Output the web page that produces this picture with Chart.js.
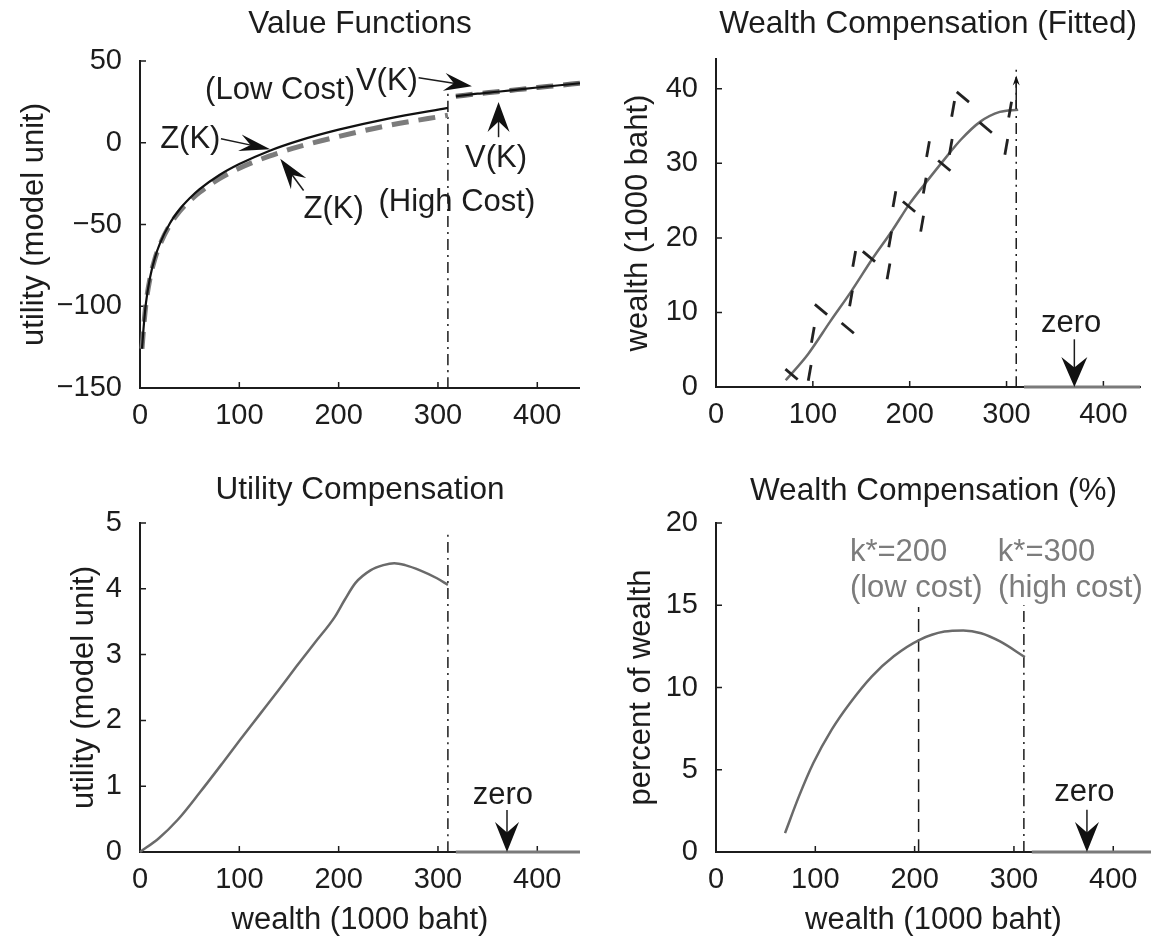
<!DOCTYPE html>
<html>
<head>
<meta charset="utf-8">
<title>Compensation</title>
<script src="https://cdn.jsdelivr.net/npm/chart.js@4.4.1/dist/chart.umd.min.js"></script>
<style>
  html, body { margin: 0; padding: 0; background: #fff; }
  #page { position: relative; width: 1151px; height: 936px; overflow: hidden; background: #fff; }
  #page canvas { position: absolute; }
</style>
</head>
<body>
<div id="page">
  <canvas id="ValueChart" width="580" height="440" style="left:0;top:0"></canvas>
  <canvas id="FittedChart" width="571" height="440" style="left:580px;top:0"></canvas>
  <canvas id="UtilityChart" width="580" height="496" style="left:0;top:440px"></canvas>
  <canvas id="PercentChart" width="571" height="496" style="left:580px;top:440px"></canvas>
</div>
<script>
const FONT = "'Liberation Sans', Arial, Helvetica, sans-serif";
const INK = '#1c1c1c';
const CURVE = '#6a6a6a';

// x축 공통 눈금 (1000 baht)
const wealthTicks = [0, 100, 200, 300, 400];

// 1) 가치함수 Z(K), V(K)
const zWealth = [2, 3.5, 6, 10, 15, 20, 30, 40, 50, 60, 80, 100, 130, 160, 200, 250, 310];
const zLowCost = [-126, -114, -98, -82.7, -70.4, -61.7, -49.4, -40.7, -34, -28.4, -19.7, -13, -5, 1.3, 8, 14.8, 21.3];
const zHighCost = [-126, -114.3, -98.5, -83.2, -71, -62.5, -50.4, -41.9, -35.6, -30.3, -22, -15.6, -8.2, -2.4, 3.8, 10.6, 16.8];
const vWealth = [318, 340, 360, 380, 400, 420, 443];
const vValue = [28.4, 30, 31.2, 32.5, 33.8, 35, 36.4];
const valueTicks = [-150, -100, -50, 0, 50];

// 2) 부 보상 (적합곡선 + 관측치)
const fitWealth = [72, 95, 118, 140, 162, 182, 200, 216, 235, 253, 273, 293, 312];
const fitComp = [0.9, 4.4, 8.8, 12.9, 17.3, 21, 24.6, 27.3, 30.4, 33.2, 35.6, 36.9, 37.2];
const obsWealth = [78, 96.7, 100, 108.4, 139.4, 136, 157.9, 142.7, 179.8, 178.1, 184.2, 199.3, 212.8, 215.5, 218.9, 235.7, 242.4, 244.8, 254.9, 278.5, 303.7, 299.7];
const obsComp = [1.7, 1.9, 7.0, 10.4, 11.9, 7.9, 17.5, 17.2, 19.8, 15.5, 25.2, 24.2, 21.9, 27.0, 31.9, 29.7, 32.2, 37.3, 38.9, 34.8, 37.2, 32.2];
const obsMark = ['\\', '|', '|', '\\', '|', '\\', '\\', '|', '|', '|', '|', '\\', '|', '|', '|', '\\', '|', '|', '\\', '\\', '|', '|'];
const fittedTicks = [0, 10, 20, 30, 40];

// 3) 효용 보상
const utilWealth = [0, 19, 38, 60, 83, 101, 120, 139, 157, 176, 196, 206, 217, 232, 245, 256, 267, 282, 299, 310];
const utilComp = [0, 0.21, 0.49, 0.9, 1.35, 1.71, 2.08, 2.45, 2.81, 3.18, 3.57, 3.83, 4.09, 4.28, 4.36, 4.39, 4.36, 4.28, 4.16, 4.06];
const utilTicks = [0, 1, 2, 3, 4, 5];

// 4) 부 보상 (%)
const pctWealth = [69.5, 83.5, 98, 116.5, 135, 157, 179, 205, 230, 249, 267, 286, 311];
const pctComp = [1.15, 3.38, 5.41, 7.44, 9.06, 10.68, 11.9, 12.9, 13.4, 13.47, 13.3, 12.8, 11.85];
const pctTicks = [0, 5, 10, 15, 20];

// 문턱 자본 k* (low cost / high cost), 그 이후로는 보상 0
const kLow = 204;
const kHigh = 310;
const zeroFrom = 318;

const pts = (xs, ys) => xs.map((x, i) => ({ x: x, y: ys[i] }));

// 음수 눈금은 긴 마이너스 기호로
const tickText = (v) => (v < 0 ? '\u2212' + Math.abs(v) : String(v));

const curve = (data, color, width, dash) => ({
    data: data,
    showLine: true,
    borderColor: color,
    borderWidth: width,
    borderDash: dash || [],
    pointRadius: 0,
    cubicInterpolationMode: 'monotone',
    clip: false
});

const vline = (xv, y0, y1, dash) => curve([{ x: xv, y: y0 }, { x: xv, y: y1 }], INK, 1.5, dash);
const DASH_DOT = [11, 5, 2, 5];

// 눈금을 축 안쪽으로 (MATLAB 스타일)
const inwardTicks = {
    id: 'inwardTicks',
    beforeDatasetsDraw(chart) {
        const { ctx, chartArea: a, scales: { x, y } } = chart;
        ctx.save();
        ctx.strokeStyle = INK;
        ctx.lineWidth = 1.5;
        ctx.beginPath();
        x.ticks.forEach(t => {
            const px = x.getPixelForValue(t.value);
            ctx.moveTo(px, a.bottom);
            ctx.lineTo(px, a.bottom - 6);
        });
        y.ticks.forEach(t => {
            const py = y.getPixelForValue(t.value);
            ctx.moveTo(a.left, py);
            ctx.lineTo(a.left + 6, py);
        });
        ctx.stroke();
        ctx.restore();
    }
};

// 화살표 (뒤가 오목한 머리)
const draw_arrow = (ctx, x0, y0, x1, y1, a) => {
    const ang = Math.atan2(y1 - y0, x1 - x0);
    const len = a.len || 30;
    const half = (a.width || 20) / 2;
    ctx.beginPath();
    ctx.moveTo(x0, y0);
    ctx.lineTo(x1 - Math.cos(ang) * len * 0.6, y1 - Math.sin(ang) * len * 0.6);
    ctx.strokeStyle = a.stem || INK;
    ctx.lineWidth = a.stemWidth || 1.5;
    ctx.stroke();
    ctx.save();
    ctx.translate(x1, y1);
    ctx.rotate(ang);
    ctx.beginPath();
    ctx.moveTo(0, 0);
    ctx.lineTo(-len, -half);
    ctx.lineTo(-len * 0.65, 0);
    ctx.lineTo(-len, half);
    ctx.closePath();
    ctx.fillStyle = '#111';
    ctx.fill();
    ctx.restore();
};

// 주석 텍스트, 화살표 (데이터 좌표 기준)
const notes_plugin = (notes) => ({
    id: 'notes',
    afterDatasetsDraw(chart) {
        const { ctx, scales: { x, y } } = chart;
        ctx.save();
        (notes.arrows || []).forEach(a => {
            draw_arrow(ctx,
                x.getPixelForValue(a.from[0]), y.getPixelForValue(a.from[1]),
                x.getPixelForValue(a.to[0]), y.getPixelForValue(a.to[1]), a);
        });
        ctx.font = '31px ' + FONT;
        ctx.textBaseline = 'middle';
        (notes.texts || []).forEach(t => {
            ctx.fillStyle = t.color || INK;
            ctx.textAlign = t.align || 'center';
            ctx.fillText(t.text, x.getPixelForValue(t.x), y.getPixelForValue(t.y));
        });
        ctx.restore();
    }
});

const base_options = (c) => ({
    responsive: false,
    animation: false,
    events: [],
    layout: { padding: 0 },
    plugins: {
        legend: { display: false },
        tooltip: { enabled: false },
        title: {
            display: true,
            fullSize: false,
            text: c.title,
            color: INK,
            font: { family: FONT, size: 31.5, weight: 'normal', lineHeight: 1 },
            padding: { top: c.titleTop, bottom: c.titleBottom }
        }
    },
    scales: {
        x: {
            type: 'linear',
            min: 0,
            max: c.xMax,
            afterBuildTicks: (s) => { s.ticks = wealthTicks.map(v => ({ value: v })); },
            afterFit: (s) => { s.height = c.xHeight; },
            grid: { display: false },
            border: { display: true, color: INK, width: 2 },
            ticks: {
                color: INK, font: { family: FONT, size: 29 }, padding: 3,
                maxRotation: 0, autoSkip: false, callback: tickText
            },
            title: {
                display: !!c.xTitle,
                text: c.xTitle || '',
                color: INK,
                font: { family: FONT, size: 31, lineHeight: 1 },
                padding: { top: 0, bottom: 0.5 }
            }
        },
        y: {
            type: 'linear',
            min: c.yMin,
            max: c.yMax,
            afterBuildTicks: (s) => { s.ticks = c.yTicks.map(v => ({ value: v })); },
            afterFit: (s) => { s.width = c.yWidth; },
            grid: { display: false },
            border: { display: true, color: INK, width: 2 },
            ticks: {
                color: INK, font: { family: FONT, size: 29 }, padding: 10,
                autoSkip: false, callback: tickText
            },
            title: {
                display: true,
                text: c.yTitle,
                color: INK,
                font: { family: FONT, size: 31, lineHeight: 1 },
                padding: { top: c.yTitlePad, bottom: 0 }
            }
        }
    }
});

// 왼쪽 위: 가치함수
const value_chart = () => {
    const ctx = document.getElementById('ValueChart');
    if (!ctx) return;
    const xMax = 443;
    new Chart(ctx, {
        type: 'scatter',
        data: {
            datasets: [
                curve(pts(zWealth, zLowCost), '#111', 2.2),
                curve(pts(vWealth, vValue), '#111', 2.2),
                curve(pts(zWealth, zHighCost), '#7c7c7c', 5, [17, 10]),
                curve(pts(vWealth, vValue), '#6c6c6c', 5, [17, 10]),
                vline(kHigh, -150, 31, DASH_DOT)
            ]
        },
        options: base_options({
            title: 'Value Functions', titleTop: 9, titleBottom: 20.5,
            xMax: xMax, xHeight: 52,
            yMin: -150, yMax: 50, yTicks: valueTicks, yWidth: 140,
            yTitle: 'utility (model unit)', yTitlePad: 18.5
        }),
        plugins: [inwardTicks, notes_plugin({
            texts: [
                { text: '(Low Cost)', x: 141, y: 32.1 },
                { text: 'V(K)', x: 248.6, y: 37.7 },
                { text: 'Z(K)', x: 50.6, y: 2 },
                { text: 'Z(K)', x: 194.9, y: -40.5 },
                { text: '(High Cost)', x: 319, y: -36.4 },
                { text: 'V(K)', x: 358.5, y: -9.3 }
            ],
            arrows: [
                { from: [280.5, 39.7], to: [334.2, 34.6], len: 28, width: 18 },
                { from: [81.5, 2.5], to: [131.1, -4], len: 31, width: 17 },
                { from: [164.7, -29.2], to: [141.2, -9.8], len: 31, width: 19 },
                { from: [361, 3.4], to: [361, 25], len: 30, width: 22 }
            ]
        })]
    });
};

// 오른쪽 위: 부 보상 적합
const fitted_chart = () => {
    const ctx = document.getElementById('FittedChart');
    if (!ctx) return;
    const xMax = 438;
    new Chart(ctx, {
        type: 'scatter',
        data: {
            datasets: [
                {
                    data: pts(obsWealth, obsComp),
                    showLine: false,
                    pointStyle: 'line',
                    pointRadius: 8,
                    pointBorderWidth: 2.8,
                    pointBorderColor: '#222',
                    pointRotation: obsMark.map(m => (m === '|' ? -80 : 40)),
                    clip: false
                },
                curve(pts(fitWealth, fitComp), CURVE, 2.5),
                curve([{ x: zeroFrom, y: 0 }, { x: xMax, y: 0 }], '#7a7a7a', 3),
                vline(kHigh, 0, 42.6, DASH_DOT)
            ]
        },
        options: base_options({
            title: 'Wealth Compensation (Fitted)', titleTop: 9, titleBottom: 18.5,
            xMax: xMax, xHeight: 53,
            yMin: 0, yMax: 44, yTicks: fittedTicks, yWidth: 136,
            yTitle: 'wealth (1000 baht)', yTitlePad: 42.5
        }),
        plugins: [inwardTicks, notes_plugin({
            texts: [{ text: 'zero', x: 366.7, y: 8.5 }],
            arrows: [
                { from: [370, 6.4], to: [370, 0], len: 30, width: 26 },
                { from: [kHigh, 37.3], to: [kHigh, 41.8], len: 10, width: 7 }
            ]
        })]
    });
};

// 왼쪽 아래: 효용 보상
const utility_chart = () => {
    const ctx = document.getElementById('UtilityChart');
    if (!ctx) return;
    const xMax = 443;
    new Chart(ctx, {
        type: 'scatter',
        data: {
            datasets: [
                curve(pts(utilWealth, utilComp), CURVE, 2.5),
                curve([{ x: zeroFrom, y: 0 }, { x: xMax, y: 0 }], '#7a7a7a', 3),
                vline(kHigh, 0, 4.82, DASH_DOT)
            ]
        },
        options: base_options({
            title: 'Utility Compensation', titleTop: 35, titleBottom: 16.5,
            xMax: xMax, xHeight: 84, xTitle: 'wealth (1000 baht)',
            yMin: 0, yMax: 5, yTicks: utilTicks, yWidth: 140,
            yTitle: 'utility (model unit)', yTitlePad: 68.5
        }),
        plugins: [inwardTicks, notes_plugin({
            texts: [{ text: 'zero', x: 365.3, y: 0.86 }],
            arrows: [{ from: [369.5, 0.64], to: [369.5, 0], len: 30, width: 24 }]
        })]
    });
};

// 오른쪽 아래: 부 보상 (%)
const percent_chart = () => {
    const ctx = document.getElementById('PercentChart');
    if (!ctx) return;
    const xMax = 438;
    const soft = '#7c7c7c';
    new Chart(ctx, {
        type: 'scatter',
        data: {
            datasets: [
                curve(pts(pctWealth, pctComp), CURVE, 2.5),
                curve([{ x: zeroFrom, y: 0 }, { x: xMax, y: 0 }], '#7a7a7a', 3),
                vline(kLow, 0, 14.9, [13, 7]),
                vline(kHigh, 0, 15, DASH_DOT)
            ]
        },
        options: base_options({
            title: 'Wealth Compensation (%)', titleTop: 36, titleBottom: 15.5,
            xMax: xMax, xHeight: 84, xTitle: 'wealth (1000 baht)',
            yMin: 0, yMax: 20, yTicks: pctTicks, yWidth: 136,
            yTitle: 'percent of wealth', yTitlePad: 45.5
        }),
        plugins: [inwardTicks, notes_plugin({
            texts: [
                { text: 'k*=200', x: 134.8, y: 18.2, align: 'left', color: soft },
                { text: '(low cost)', x: 134.8, y: 16.0, align: 'left', color: soft },
                { text: 'k*=300', x: 283.8, y: 18.2, align: 'left', color: soft },
                { text: '(high cost)', x: 284, y: 16.0, align: 'left', color: soft },
                { text: 'zero', x: 371, y: 3.59 }
            ],
            arrows: [{ from: [373.5, 2.57], to: [373.5, 0], len: 30, width: 24 }]
        })]
    });
};

document.addEventListener('DOMContentLoaded', () => {
    value_chart();
    fitted_chart();
    utility_chart();
    percent_chart();
});
</script>
</body>
</html>
